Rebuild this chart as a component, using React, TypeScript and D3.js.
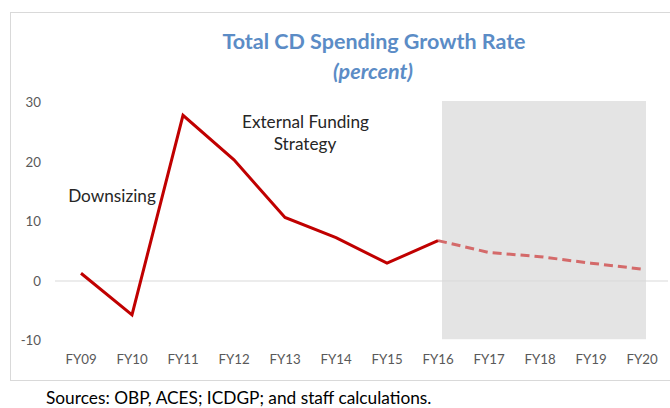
import React from "react";
import * as d3 from "d3";

const categories = ["FY09", "FY10", "FY11", "FY12", "FY13", "FY14", "FY15", "FY16", "FY17", "FY18", "FY19", "FY20"];
const actualValues = [1.3, -5.7, 27.9, 20.4, 10.7, 7.3, 3.0, 6.8];
const projectedCategories = ["FY16", "FY17", "FY18", "FY19", "FY20"];
const projectedValues = [6.8, 4.8, 4.1, 3.0, 2.0];
const yTicks = [-10, 0, 10, 20, 30];
const shadedRange = ["FY16", "FY20"];

const FONT = "Lato, 'Open Sans', sans-serif";

export default function App() {
  const x = d3.scalePoint<string>().domain(categories).range([81, 642]);
  const y = d3.scaleLinear().domain([-10, 30]).range([340.4, 102.8]);

  const line = d3
    .line<{ c: string; v: number }>()
    .x((d) => x(d.c) as number)
    .y((d) => y(d.v));

  const actual = categories.slice(0, actualValues.length).map((c, i) => ({ c, v: actualValues[i] }));
  const projected = projectedCategories.map((c, i) => ({ c, v: projectedValues[i] }));

  const bandX0 = (x(shadedRange[0]) as number) + 4;
  const bandX1 = (x(shadedRange[1]) as number) + 4;

  return (
    <svg
      width={670}
      height={408}
      style={{ position: "absolute", left: 0, top: 0, background: "#fff" }}
      fontFamily={FONT}
    >
      <rect x={10.5} y={12.5} width={680} height={368} fill="#fff" stroke="#d9d9d9" strokeWidth={1} />
      <text x={374} y={49} textAnchor="middle" fontSize={21.5} fontWeight="bold" fill="#5b8cc6">
        Total CD Spending Growth Rate
      </text>
      <text x={373} y={79} textAnchor="middle" fontSize={21.5} fontWeight="bold" fontStyle="italic" fill="#5b8cc6">
        (percent)
      </text>
      <rect x={bandX0} y={y(30.3)} width={bandX1 - bandX0} height={y(-9.8) - y(30.3)} fill="#e4e4e4" />
      <line x1={55} x2={668} y1={y(0)} y2={y(0)} stroke="#d9d9d9" strokeWidth={1} />
      {yTicks.map((t) => (
        <text key={t} x={41} y={y(t)} dy="0.35em" textAnchor="end" fontSize={13.3} fill="#595959">
          {t}
        </text>
      ))}
      {categories.map((c) => (
        <text key={c} x={x(c) as number} y={359} dy="0.35em" textAnchor="middle" fontSize={13.3} fill="#595959">
          {c}
        </text>
      ))}
      <path d={line(projected) || ""} fill="none" stroke="#d46a6a" strokeWidth={3} strokeDasharray="9,5" />
      <path d={line(actual) || ""} fill="none" stroke="#c00000" strokeWidth={3} strokeLinejoin="miter" />
      <text x={112} y={196} dy="0.35em" textAnchor="middle" fontSize={17.2} fill="#262626">
        Downsizing
      </text>
      <text x={305.5} y={121.5} dy="0.35em" textAnchor="middle" fontSize={17.2} fill="#262626">
        External Funding
      </text>
      <text x={305} y={144} dy="0.35em" textAnchor="middle" fontSize={17.2} fill="#262626">
        Strategy
      </text>
      <text x={46} y={404} fontSize={17.3} fill="#000">
        Sources: OBP, ACES; ICDGP; and staff calculations.
      </text>
    </svg>
  );
}
